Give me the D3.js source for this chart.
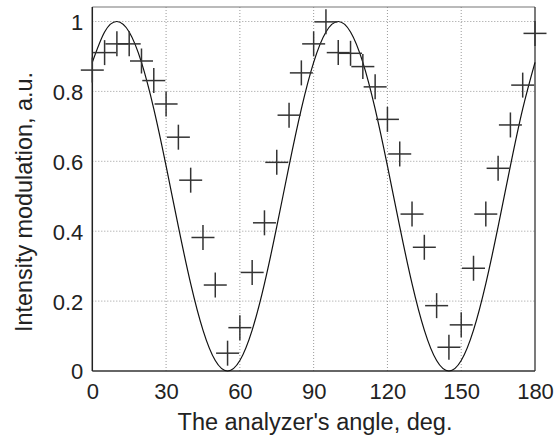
<!DOCTYPE html>
<html>
<head>
<meta charset="utf-8">
<script src="https://cdn.jsdelivr.net/npm/d3@7"></script>
<style>
  html, body { margin: 0; padding: 0; background: #fff; }
  svg { display: block; }
  text { font-family: "Liberation Sans", Arial, Helvetica, sans-serif; fill: #222; }
</style>
</head>
<body>
<svg id="chart" width="558" height="441"></svg>
<script>
// Measured points (crosses): analyzer angle (deg) and intensity (a.u.)
const measAngles = [0, 5, 10, 15, 20, 25, 30, 35, 40, 45, 50, 55, 60, 65, 70, 75, 80, 85, 90,
                    95, 100, 105, 110, 115, 120, 125, 130, 135, 140, 145, 150, 155, 160, 165, 170, 175, 180];
const measValues = [0.861, 0.911, 0.936, 0.936, 0.887, 0.831, 0.764, 0.669, 0.546, 0.382, 0.246, 0.051,
                    0.124, 0.282, 0.424, 0.597, 0.732, 0.853, 0.936,
                    0.999, 0.911, 0.909, 0.871, 0.813, 0.720, 0.621, 0.449, 0.354, 0.187, 0.068,
                    0.132, 0.294, 0.449, 0.580, 0.704, 0.818, 0.966];

// Model curve (solid line) every 5 degrees
const curveAngles = [0, 5, 10, 15, 20, 25, 30, 35, 40, 45, 50, 55, 60, 65, 70, 75, 80, 85, 90,
                     95, 100, 105, 110, 115, 120, 125, 130, 135, 140, 145, 150, 155, 160, 165, 170, 175, 180];
const curveValues = [0.883, 0.970, 1.000, 0.970, 0.883, 0.750, 0.587, 0.413, 0.250, 0.117, 0.030, 0.000,
                     0.030, 0.117, 0.250, 0.413, 0.587, 0.750, 0.883,
                     0.970, 1.000, 0.970, 0.883, 0.750, 0.587, 0.413, 0.250, 0.117, 0.030, 0.000,
                     0.030, 0.117, 0.250, 0.413, 0.587, 0.750, 0.883];

const xTicks = [0, 30, 60, 90, 120, 150, 180];
const yTicks = [0, 0.2, 0.4, 0.6, 0.8, 1];
const yTickLabels = ["0", "0.2", "0.4", "0.6", "0.8", "1"];

const xTitle = "The analyzer's angle, deg.";
const yTitle = "Intensity modulation, a.u.";

const svg = d3.select("#chart");
const m = { left: 92.3, right: 535, top: 7, bottom: 371 };

const x = d3.scaleLinear().domain([0, 180]).range([m.left, m.right]);
const y = d3.scaleLinear().domain([0, 1.0415]).range([m.bottom, m.top]);

// Gridlines
const grid = svg.append("g");
grid.selectAll("line.v").data(xTicks.filter(d => d > 0 && d < 180)).enter().append("line")
  .attr("x1", d => x(d)).attr("x2", d => x(d))
  .attr("y1", m.top).attr("y2", m.bottom)
  .attr("stroke", "#9a9a9a").attr("stroke-width", 1).attr("stroke-dasharray", "1,2");
grid.selectAll("line.h").data(yTicks.filter(d => d > 0)).enter().append("line")
  .attr("y1", d => y(d)).attr("y2", d => y(d))
  .attr("x1", m.left).attr("x2", m.right)
  .attr("stroke", "#9a9a9a").attr("stroke-width", 1).attr("stroke-dasharray", "1,2");

// Axes (labels only, no tick marks)
const xAxis = svg.append("g").attr("transform", `translate(0,${m.bottom})`)
  .call(d3.axisBottom(x).tickValues(xTicks).tickSize(0).tickPadding(0).tickFormat(d3.format("d")));
xAxis.select(".domain").remove();
xAxis.selectAll("text").attr("dy", null).attr("y", 28).style("font-size", "22px")
  .style("font-family", "'Liberation Sans', Arial, sans-serif").attr("fill", "#222");

const yAxis = svg.append("g").attr("transform", `translate(${m.left},0)`)
  .call(d3.axisLeft(y).tickValues(yTicks).tickSize(0).tickPadding(0)
    .tickFormat((d, i) => yTickLabels[i]));
yAxis.select(".domain").remove();
yAxis.selectAll("text").attr("x", -9).attr("dy", "0.36em").style("font-size", "22px")
  .style("font-family", "'Liberation Sans', Arial, sans-serif").attr("fill", "#222");

// Frame
svg.append("line").attr("x1", m.left).attr("x2", m.right).attr("y1", m.top).attr("y2", m.top)
  .attr("stroke", "#777").attr("stroke-width", 1.2);
svg.append("line").attr("x1", m.right).attr("x2", m.right).attr("y1", m.top).attr("y2", m.bottom)
  .attr("stroke", "#333").attr("stroke-width", 1.3);
svg.append("line").attr("x1", m.left).attr("x2", m.right).attr("y1", m.bottom).attr("y2", m.bottom)
  .attr("stroke", "#333").attr("stroke-width", 1.5);
svg.append("line").attr("x1", m.left).attr("x2", m.left).attr("y1", m.top).attr("y2", m.bottom)
  .attr("stroke", "#222").attr("stroke-width", 1.5);

// Model curve
const line = d3.line().x(d => x(d[0])).y(d => y(d[1])).curve(d3.curveNatural);
svg.append("path").datum(curveAngles.map((a, i) => [a, curveValues[i]]))
  .attr("d", line).attr("fill", "none").attr("stroke", "#111").attr("stroke-width", 1.2);

// Crosses
const cross = svg.append("g").selectAll("g").data(measAngles.map((a, i) => [a, measValues[i]]))
  .enter().append("g").attr("transform", d => `translate(${x(d[0])},${y(d[1])})`);
cross.append("line").attr("x1", -11.5).attr("x2", 11.5).attr("y1", 0).attr("y2", 0)
  .attr("stroke", "#333").attr("stroke-width", 1.5);
cross.append("line").attr("x1", 0).attr("x2", 0).attr("y1", -12.5).attr("y2", 12.5)
  .attr("stroke", "#333").attr("stroke-width", 1.5);

// Titles
svg.append("text").attr("x", 315).attr("y", 430)
  .attr("text-anchor", "middle").style("font-size", "23.5px").text(xTitle);
svg.append("text").attr("transform", `translate(32,202) rotate(-90)`)
  .attr("text-anchor", "middle").style("font-size", "23.4px").text(yTitle);
</script>
</body>
</html>
